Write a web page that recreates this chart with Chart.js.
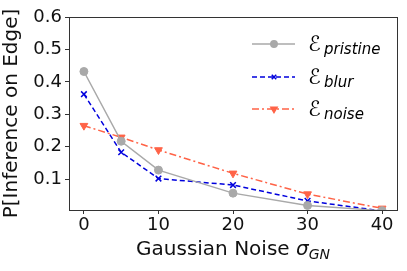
<!DOCTYPE html>
<html lang="en">
<head>
<meta charset="UTF-8">
<title>chart</title>
<style>
  html, body { margin: 0; padding: 0; background: #fff; }
  #wrap { width: 407px; height: 271px; }
</style>
</head>
<body>
<div id="wrap"><canvas id="myChart"></canvas></div>
<script src="https://cdn.jsdelivr.net/npm/chart.js"></script>
<script>
  var noise_levels = [0, 5, 10, 20, 30, 40];
  var pristine = [0.432, 0.217, 0.128, 0.057, 0.019, 0.003];
  var blur = [0.362, 0.183, 0.102, 0.082, 0.033, 0.002];
  var noise = [0.265, 0.229, 0.190, 0.118, 0.054, 0.010];
  var x_ticks = [0, 10, 20, 30, 40];
  var y_ticks = [0.1, 0.2, 0.3, 0.4, 0.5, 0.6];
  var legend_subs = ["pristine", "blur", "noise"];

  function pts(arr) {
    return arr.map(function (v, i) { return { x: noise_levels[i], y: v }; });
  }

  var fam = "'DejaVu Sans', sans-serif";

  // frame around the plot, like matplotlib spines
  var framePlugin = {
    id: "frame",
    afterDraw: function (chart) {
      var a = chart.chartArea, c = chart.ctx;
      c.save();
      c.strokeStyle = "#333";
      c.lineWidth = 1;
      c.strokeRect(Math.round(a.left) + 0.5, Math.round(a.top) + 0.5,
        Math.round(a.right - a.left), Math.round(a.bottom - a.top));

      // x title with subscript
      var main = "Gaussian Noise ", sig = "\u03c3", sub = "GN";
      c.fillStyle = "#111";
      c.textBaseline = "alphabetic";
      c.font = "20px " + fam;
      var w1 = c.measureText(main).width;
      c.font = "italic 20px " + fam;
      var w2 = c.measureText(sig).width;
      c.font = "italic 14px " + fam;
      var w3 = c.measureText(sub).width;
      var x0 = (a.left + a.right) / 2 - (w1 + w2 + w3) / 2;
      c.font = "20px " + fam;
      c.fillText(main, x0, 255);
      c.font = "italic 20px " + fam;
      c.fillText(sig, x0 + w1, 255);
      c.font = "italic 14px " + fam;
      c.fillText(sub, x0 + w1 + w2, 259);
      c.restore();
    }
  };

  // legend drawn by hand so the label can carry a subscript
  var legendPlugin = {
    id: "mathLegend",
    afterDraw: function (chart) {
      var c = chart.ctx;
      var rows = [44, 77, 109];
      chart.data.datasets.forEach(function (ds, i) {
        var y = rows[i];
        c.save();
        c.strokeStyle = ds.borderColor;
        c.fillStyle = ds.backgroundColor;
        c.lineWidth = ds.borderWidth;
        c.setLineDash(ds.borderDash || []);
        c.beginPath();
        c.moveTo(252, y);
        c.lineTo(295, y);
        c.stroke();
        c.setLineDash([]);
        Chart.helpers.drawPoint(c, {
          pointStyle: ds.pointStyle,
          radius: ds.pointRadius * 0.8,
          rotation: ds.pointRotation || 0,
          borderWidth: ds.pointBorderWidth || 1
        }, 274, y);
        c.fillStyle = "#000";
        c.font = "italic 21px " + fam;
        c.textBaseline = "alphabetic";
        c.fillText("\u2130", 308, y + 7);
        c.font = "italic 15px " + fam;
        c.fillText(legend_subs[i], 324, y + 10);
        c.restore();
      });
    }
  };

  var config = {
    type: "line",
    data: {
      datasets: [
        {
          label: "pristine",
          data: pts(pristine),
          borderColor: "#a9a9a9",
          backgroundColor: "#a9a9a9",
          borderWidth: 1.5,
          pointStyle: "circle",
          pointRadius: 4,
          pointBorderWidth: 1
        },
        {
          label: "blur",
          data: pts(blur),
          borderColor: "#0000dd",
          backgroundColor: "#0000dd",
          borderWidth: 1.5,
          borderDash: [5, 3],
          pointStyle: "crossRot",
          pointRadius: 4,
          pointBorderWidth: 1.5
        },
        {
          label: "noise",
          data: pts(noise),
          borderColor: "#ff6347",
          backgroundColor: "#ff6347",
          borderWidth: 1.5,
          borderDash: [7, 3, 2, 3],
          pointStyle: "triangle",
          pointRotation: 180,
          pointRadius: 4.5,
          pointBorderWidth: 1
        }
      ]
    },
    options: {
      responsive: false,
      animation: false,
      devicePixelRatio: 1,
      layout: { padding: { top: 17, right: 10, left: 0, bottom: 0 } },
      plugins: {
        legend: { display: false },
        tooltip: { enabled: false }
      },
      scales: {
        x: {
          type: "linear",
          min: -2,
          max: 42,
          afterBuildTicks: function (s) { s.ticks = x_ticks.map(function (v) { return { value: v }; }); },
          afterFit: function (s) { s.height = 61; },
          grid: { display: true, drawOnChartArea: false, tickLength: 4, color: "#333" },
          border: { display: false },
          ticks: { color: "#111", font: { family: fam, size: 18 }, padding: 1, maxRotation: 0 },
          title: { display: false }
        },
        y: {
          type: "linear",
          min: 0.005,
          max: 0.6,
          afterBuildTicks: function (s) { s.ticks = y_ticks.map(function (v) { return { value: v }; }); },
          afterFit: function (s) { s.width = 69; },
          grid: { display: true, drawOnChartArea: false, tickLength: 4, color: "#333" },
          border: { display: false },
          ticks: {
            color: "#111",
            font: { family: fam, size: 18 },
            padding: 3,
            callback: function (v) { return v.toFixed(1); }
          },
          title: {
            display: true,
            text: "P[Inference on Edge]",
            color: "#111",
            font: { family: fam, size: 20 },
            padding: { top: 0, bottom: 0 }
          }
        }
      }
    },
    plugins: [framePlugin, legendPlugin]
  };

  var cv = document.getElementById("myChart");
  cv.width = 407;
  cv.height = 271;
  var myChart = new Chart(cv, config);
</script>
</body>
</html>
